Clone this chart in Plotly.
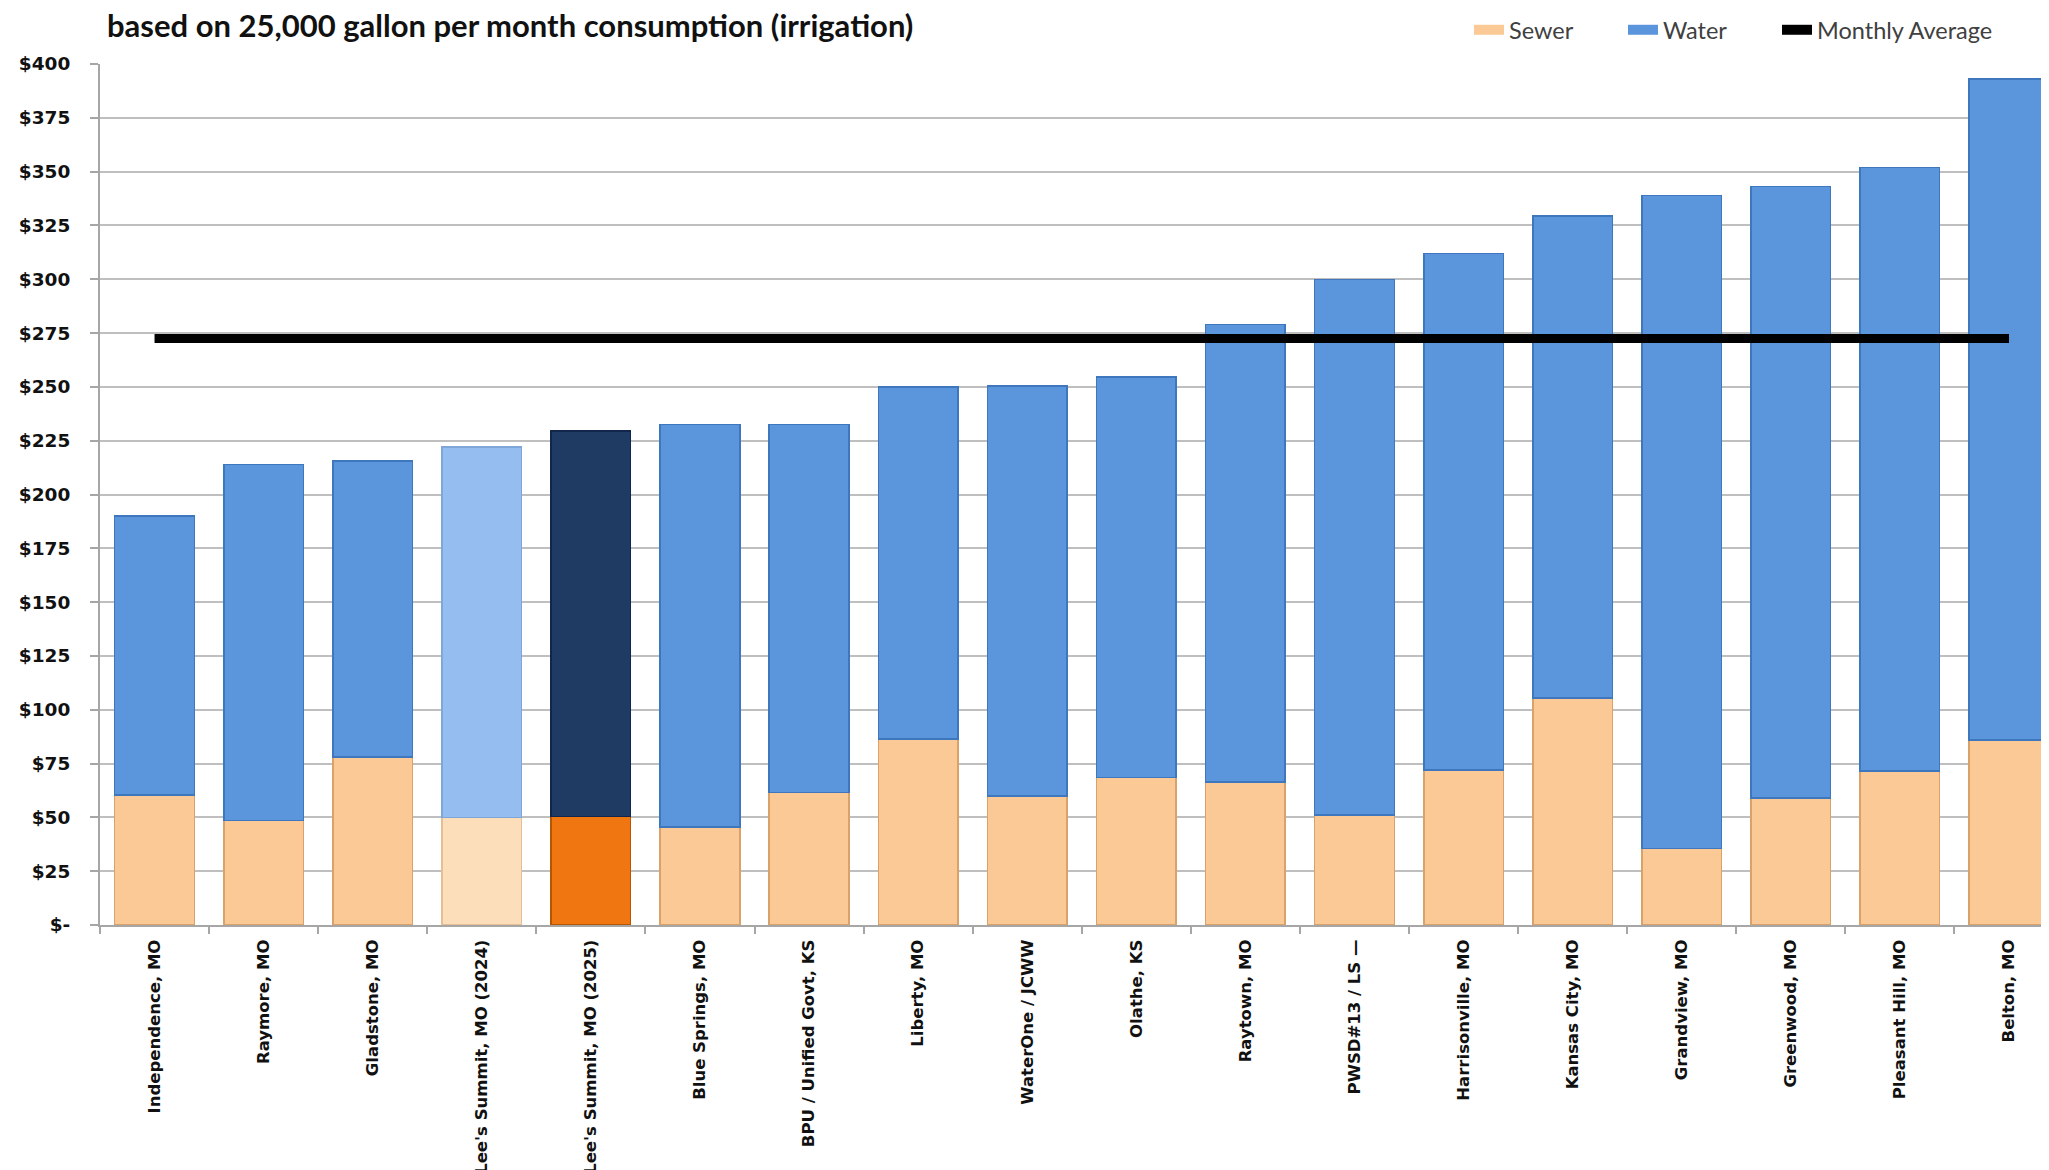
import plotly.graph_objects as go

categories = [
    "Independence, MO", "Raymore, MO", "Gladstone, MO", "Lee's Summit, MO (2024)",
    "Lee's Summit, MO (2025)", "Blue Springs, MO", "BPU / Unified Govt, KS", "Liberty, MO",
    "WaterOne / JCWW", "Olathe, KS", "Raytown, MO", "PWSD#13 / LS \u2014",
    "Harrisonville, MO", "Kansas City, MO", "Grandview, MO", "Greenwood, MO",
    "Pleasant Hill, MO", "Belton, MO",
]
totals = [190, 214, 215.5, 222, 229.5, 232.5, 232.5, 250, 250.5, 254.5,
          279, 300, 312, 329.5, 339, 343, 352, 393]
sewer = [60.5, 48.5, 78, 50, 50.5, 45.5, 61.5, 86.5, 60, 68.5,
         66.5, 51, 72, 105.5, 35.5, 59, 71.5, 86]
water = [round(t - s, 2) for t, s in zip(totals, sewer)]
monthly_average = 272.5

y_tickvals = [0, 25, 50, 75, 100, 125, 150, 175, 200, 225, 250, 275, 300, 325, 350, 375, 400]
y_ticktext = ["$-", "$25", "$50", "$75", "$100", "$125", "$150", "$175", "$200", "$225",
              "$250", "$275", "$300", "$325", "$350", "$375", "$400"]

SEWER = "#FBC996"
SEWER_LINE = "#D9A26A"
WATER = "#5B96DD"
WATER_LINE = "#3F77BE"
LS24_SEWER = "#FDDEBB"
LS24_WATER = "#96BDEF"
LS25_SEWER = "#F07612"
LS25_WATER = "#1F3B64"

sewer_colors = [SEWER] * len(categories)
water_colors = [WATER] * len(categories)
sewer_lines = [SEWER_LINE] * len(categories)
water_lines = [WATER_LINE] * len(categories)
sewer_colors[3], water_colors[3] = LS24_SEWER, LS24_WATER
sewer_colors[4], water_colors[4] = LS25_SEWER, LS25_WATER
sewer_lines[3], water_lines[3] = "#E5BE96", "#7FA6D8"
sewer_lines[4], water_lines[4] = "#B85500", "#10264A"

fig = go.Figure()
fig.add_trace(go.Bar(
    x=categories, y=sewer, name="Sewer", showlegend=False,
    marker=dict(color=sewer_colors, line=dict(color=sewer_lines, width=1.5)),
))
fig.add_trace(go.Bar(
    x=categories, y=water, name="Water", showlegend=False,
    marker=dict(color=water_colors, line=dict(color=water_lines, width=1.5)),
))
fig.add_trace(go.Scatter(
    x=[categories[0], categories[-1]], y=[monthly_average, monthly_average],
    mode="lines", name="Monthly Average", showlegend=False,
    line=dict(color="#000000", width=9),
))

# legend-only entries (wide swatches like the original)
fig.add_trace(go.Scatter(x=[None], y=[None], mode="lines", name="Sewer",
                         line=dict(color=SEWER, width=12), legend="legend"))
fig.add_trace(go.Scatter(x=[None], y=[None], mode="lines", name="Water",
                         line=dict(color=WATER, width=12), legend="legend2"))
fig.add_trace(go.Scatter(x=[None], y=[None], mode="lines", name="Monthly Average",
                         line=dict(color="#000000", width=10), legend="legend3"))

legend_font = dict(family="Lato", size=23.5, color="#404040")
legend_common = dict(
    xref="container", yref="container", xanchor="left", yanchor="middle",
    y=1 - 22 / 1170, font=legend_font, bgcolor="rgba(0,0,0,0)",
    itemwidth=30, borderwidth=0,
)

fig.update_layout(
    width=2049, height=1170,
    barmode="stack", bargap=0.27,
    plot_bgcolor="white", paper_bgcolor="white",
    margin=dict(l=92, r=0, t=56, b=253, autoexpand=False),
    title=dict(
        text="<b>based on 25,000 gallon per month consumption (irrigation)</b>",
        x=99 / 2049, xanchor="left", xref="container",
        y=1 - 18 / 1170, yanchor="middle", yref="container",
        font=dict(family="Lato", size=31, color="#111111"),
    ),
    legend=dict(x=(1473 - 12) / 2049, **legend_common),
    legend2=dict(x=(1627 - 12) / 2049, **legend_common),
    legend3=dict(x=(1781 - 12) / 2049, **legend_common),
    showlegend=True,
)
fig.update_xaxes(
    range=[-0.5, 17.44],
    tickangle=-90,
    tickfont=dict(family="DejaVu Sans", size=16.5, color="#111111", weight="bold"),
    ticks="outside", tickson="boundaries", ticklen=7, tickcolor="#A6A6A6", tickwidth=2,
    ticklabelstandoff=6,
    showline=True, linecolor="#A6A6A6", linewidth=2,
    showgrid=False, automargin=False,
)
fig.update_yaxes(
    range=[0, 400],
    tickvals=y_tickvals, ticktext=y_ticktext,
    tickfont=dict(family="DejaVu Sans", size=18.5, color="#111111", weight="bold"),
    ticks="outside", ticklen=8, tickcolor="#A6A6A6", tickwidth=2,
    ticklabelstandoff=16,
    showline=True, linecolor="#A6A6A6", linewidth=2,
    showgrid=True, gridcolor="#BFBFBF", gridwidth=2,
    zeroline=False, automargin=False,
)

fig.write_html("out.html")
